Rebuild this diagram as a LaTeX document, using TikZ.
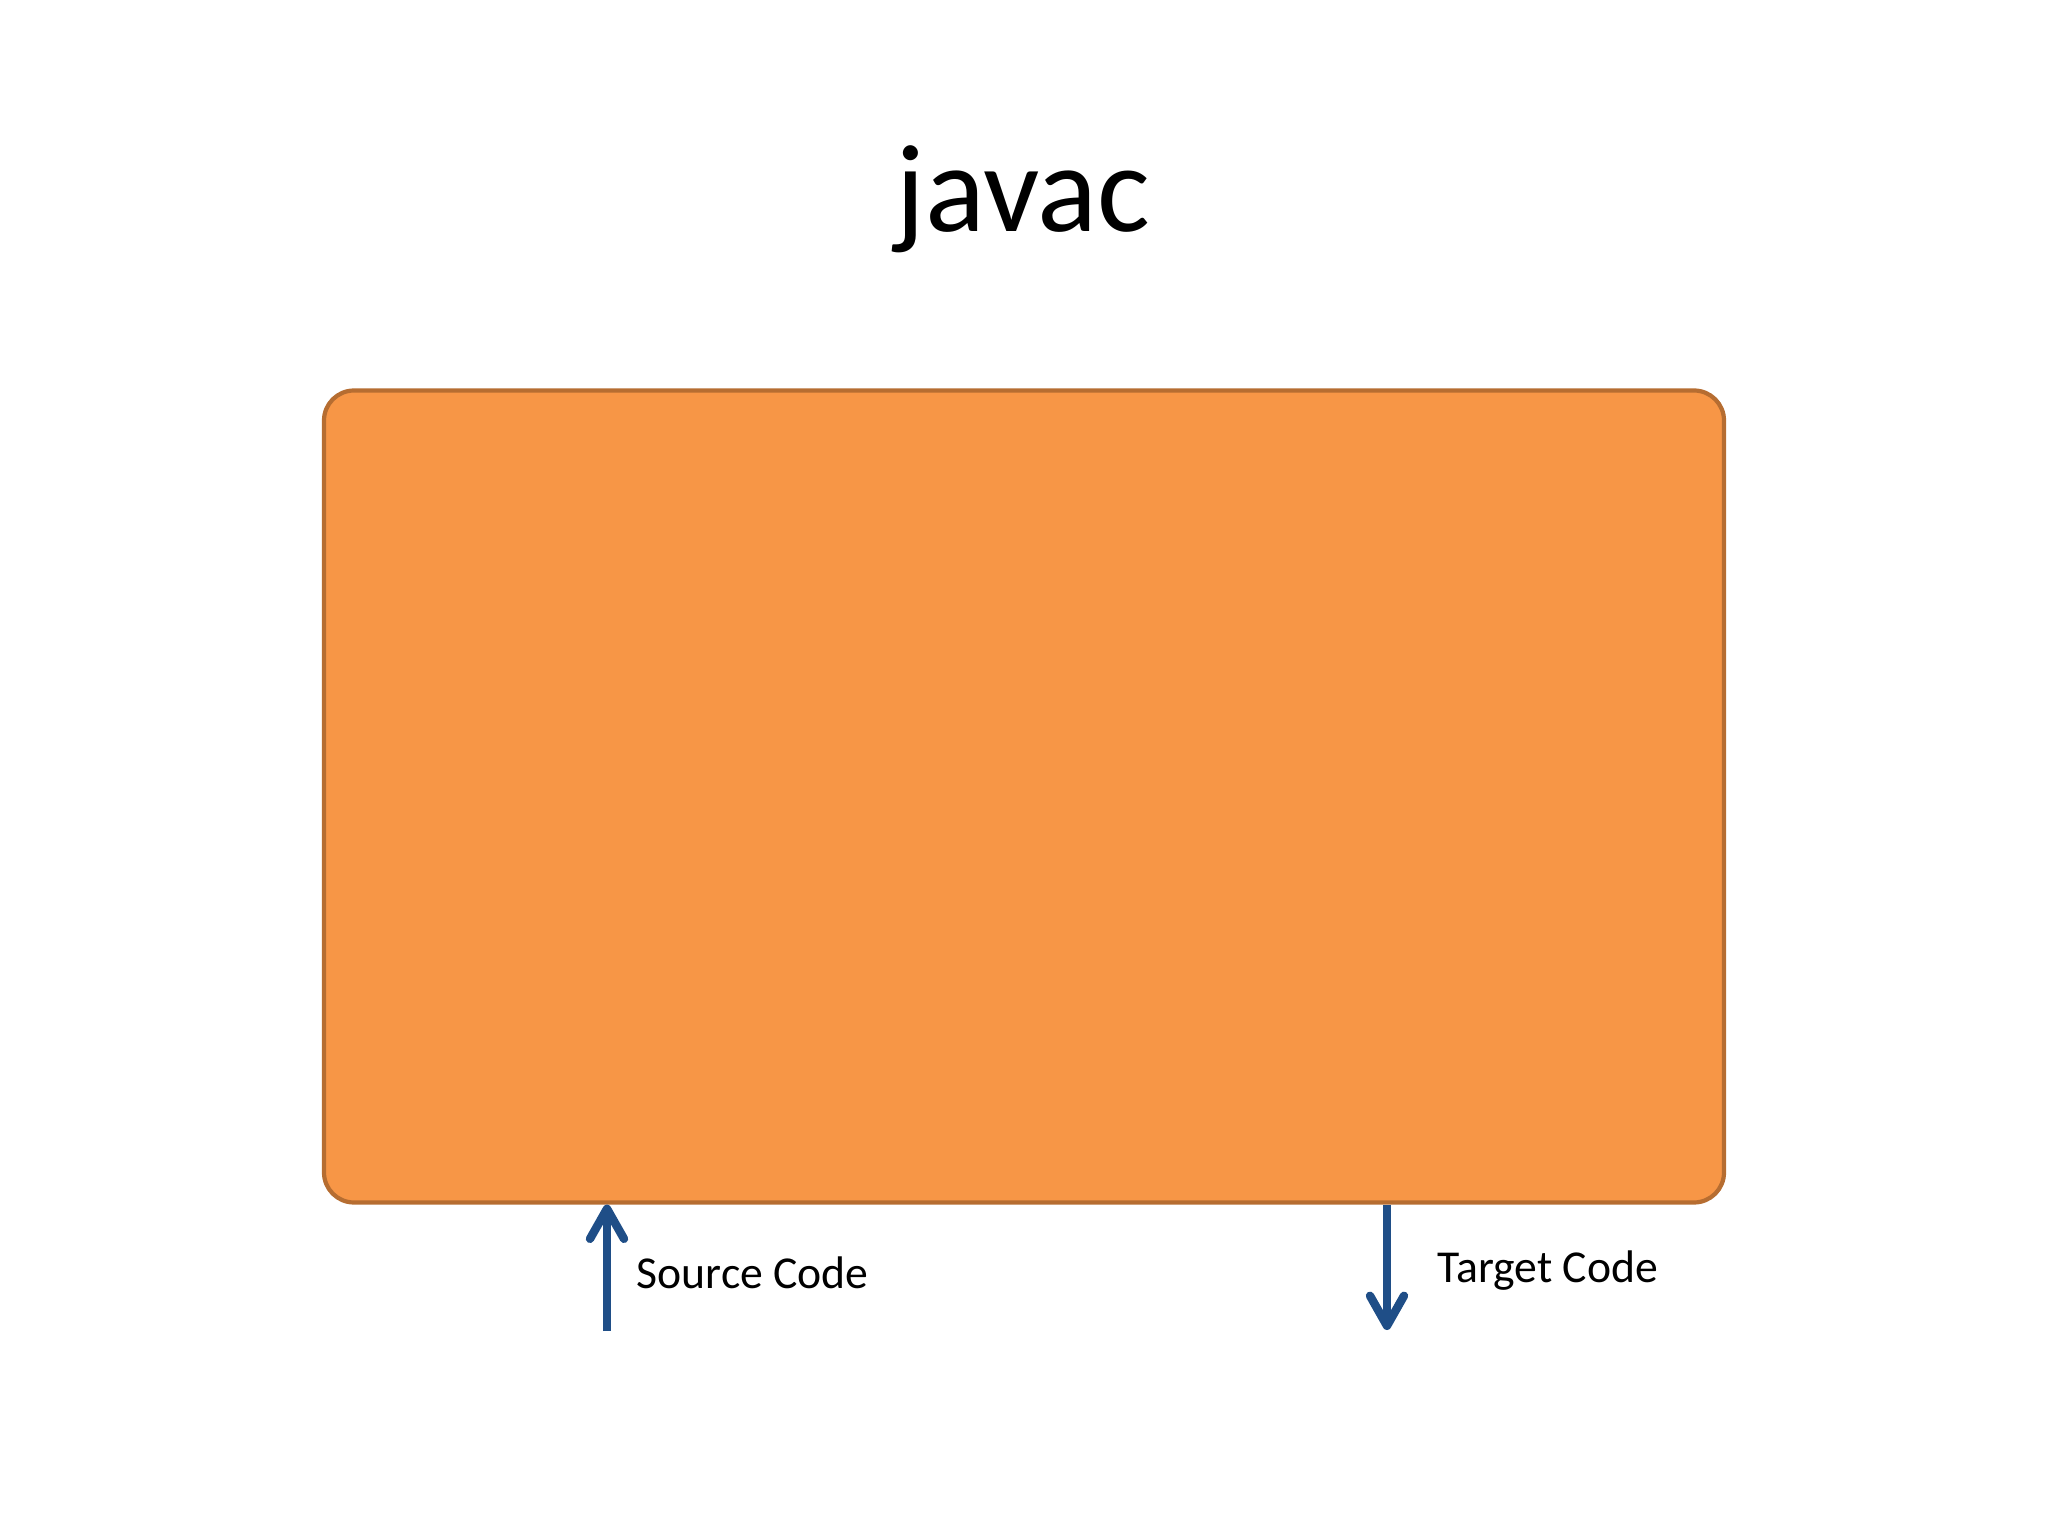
\documentclass[tikz,border=0pt]{standalone}
\usepackage{fontspec}
\setmainfont{Carlito}
\usetikzlibrary{arrows.meta}
\definecolor{boxfill}{HTML}{F79646}
\definecolor{boxline}{HTML}{B66D31}
\definecolor{arrowblue}{HTML}{1F4E87}
\tikzset{
  centered/.style = { align=center, anchor=center },
     title/.style = { font=\fontsize{35.5}{42}\selectfont, anchor=base, inner sep=0pt },
  codetext/.style = { font=\fontsize{13}{16}\selectfont, anchor=base west, inner sep=0pt },
  compiler/.style = { rectangle, rounded corners=0.3cm, draw=boxline, line width=1.2pt,
                      fill=boxfill, minimum width=14cm, minimum height=8.12cm },
     arrow/.style = { line width=2.4pt, color=arrowblue,
                      -{Straight Barb[length=3mm,width=3.4mm,line cap=round,line join=round]} }
}
\begin{document}
\begin{tikzpicture}
  \useasboundingbox (0,0) rectangle (20.48,-15.36);

  \node[title] (t) at (10.23,-2.32) {javac};
  \node[compiler] (javac) at (10.24,-7.965) {};

  \coordinate (src) at (6.07,-13.31);
  \coordinate (tgt) at (13.87,-13.30);

  \draw [arrow] (src) -- (javac.south -| src);
  \draw [arrow] (javac.south -| tgt) -- (tgt);

  \node[codetext] (s) at (6.36,-12.88) {Source Code};
  \node[codetext] (g) at (14.37,-12.82) {Target Code};

\end{tikzpicture}
\end{document}
